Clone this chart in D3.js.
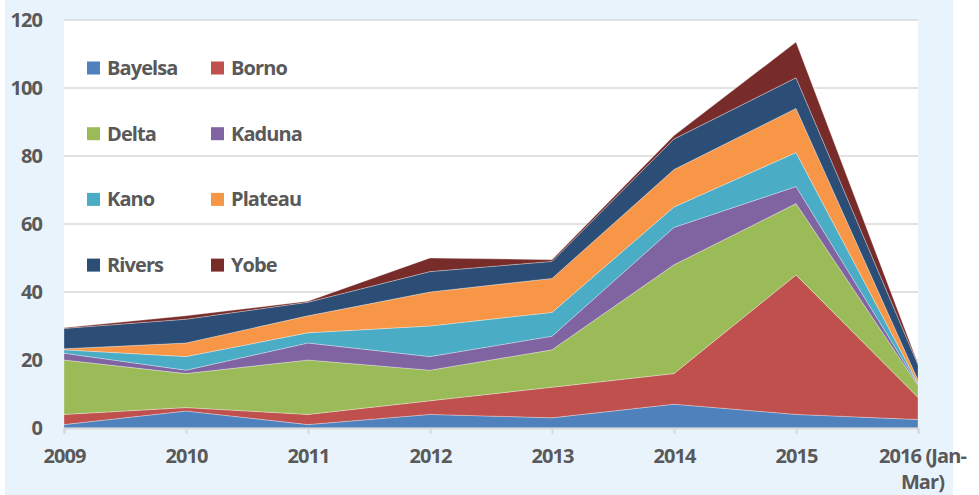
<!DOCTYPE html>
<html>
<head>
<meta charset="utf-8">
<script src="https://cdn.jsdelivr.net/npm/d3@7"></script>
<style>
  body { margin: 0; background: #fff; }
  svg text { font-family: "Open Sans", "Noto Sans", sans-serif; font-weight: 700; fill: #595959; letter-spacing: -0.9px; }
</style>
</head>
<body>
<div id="chart"></div>
<script>
// ---- data ----
const years = ["2009", "2010", "2011", "2012", "2013", "2014", "2015", "2016 (Jan-Mar)"];
const states = ["Bayelsa", "Borno", "Delta", "Kaduna", "Kano", "Plateau", "Rivers", "Yobe"];
const bayelsa = [1, 5, 1, 4, 3, 7, 4, 2.5];
const borno   = [3, 1, 3, 4, 9, 9, 41, 6.5];
const delta   = [16, 10, 16, 9, 11, 32, 21, 3.5];
const kaduna  = [2, 1, 5, 4, 4, 11, 5, 0.3];
const kano    = [1, 4, 3, 9, 7, 6, 10, 0.3];
const plateau = [0.3, 4, 5, 10, 10, 11, 13, 1];
const rivers  = [6, 7, 4, 6, 5, 9, 9, 4.5];
const yobe    = [0.2, 1, 0.3, 4, 0.5, 1, 10.5, 0.3];
const yTicks = [0, 20, 40, 60, 80, 100, 120];
const colors = ["#4f81bd", "#c0504d", "#9bbb59", "#8064a2", "#4bacc6", "#f79646", "#2c4d75", "#772c2a"];

const series = [bayelsa, borno, delta, kaduna, kano, plateau, rivers, yobe];
const rows = years.map((y, i) => {
  const r = { year: y };
  states.forEach((s, j) => { r[s] = series[j][i]; });
  return r;
});

// ---- setup ----
const width = 979, height = 495;
const svg = d3.select("#chart").append("svg")
  .attr("width", width)
  .attr("height", height);

// light blue panel
svg.append("rect")
  .attr("x", 5).attr("y", 0)
  .attr("width", 948).attr("height", height)
  .attr("fill", "#e9f3fc");

const plot = { left: 64, right: 918, top: 20, bottom: 428 };

// plot area
svg.append("rect")
  .attr("x", plot.left).attr("y", plot.top)
  .attr("width", plot.right - plot.left)
  .attr("height", plot.bottom - plot.top)
  .attr("fill", "#fff");

// ---- scales ----
const x = d3.scalePoint()
  .domain(years)
  .range([plot.left, plot.right]);

const y = d3.scaleLinear()
  .domain([0, 120])
  .range([plot.bottom, plot.top]);

// ---- gridlines ----
svg.append("g")
  .selectAll("line")
  .data(yTicks.filter(t => t > 0))
  .join("line")
  .attr("x1", plot.left).attr("x2", plot.right)
  .attr("y1", d => y(d)).attr("y2", d => y(d))
  .attr("stroke", "#d9d9d9")
  .attr("stroke-width", 1.5);

// ---- stacked areas ----
const stack = d3.stack().keys(states);
const layers = stack(rows);

const area = d3.area()
  .x(d => x(d.data.year))
  .y0(d => y(d[0]))
  .y1(d => y(d[1]));

svg.append("g")
  .selectAll("path")
  .data(layers)
  .join("path")
  .attr("d", area)
  .attr("fill", (d, i) => colors[i])
  .attr("stroke", "#ffffff")
  .attr("stroke-opacity", 0.5)
  .attr("stroke-width", 0.6);

// ---- y axis ----
const yAxis = svg.append("g")
  .attr("transform", `translate(${plot.left},0)`)
  .call(d3.axisLeft(y).tickValues(yTicks).tickSize(0).tickPadding(22));
yAxis.select(".domain").remove();
yAxis.selectAll("text")
  .style("font-size", "20px")
  .attr("fill", "#595959");

// ---- x axis ----
const xAxis = svg.append("g")
  .attr("transform", `translate(0,${plot.bottom})`)
  .call(d3.axisBottom(x).tickSize(6).tickPadding(15));
xAxis.select(".domain")
  .attr("stroke", "#d9d9d9")
  .attr("stroke-width", 2);
xAxis.selectAll(".tick line")
  .attr("stroke", "#d9d9d9")
  .attr("stroke-width", 2);
xAxis.selectAll("text")
  .style("font-size", "20px")
  .attr("fill", "#595959")
  .each(function (d) {
    const parts = d.split(/(?<=-)/);
    if (parts.length > 1) {
      const t = d3.select(this).text(null);
      parts.forEach((p, i) => {
        t.append("tspan")
          .attr("x", 4)
          .attr("dy", i === 0 ? "0.71em" : "1.3em")
          .text(p);
      });
      t.attr("dy", null);
    }
  });

// ---- legend ----
const legend = svg.append("g");
states.forEach((s, i) => {
  const col = i % 2, row = Math.floor(i / 2);
  const g = legend.append("g")
    .attr("transform", `translate(${87 + col * 124},${68 + row * 65.7})`);
  g.append("rect")
    .attr("x", 0).attr("y", -6.5)
    .attr("width", 13).attr("height", 13)
    .attr("fill", colors[i]);
  g.append("text")
    .attr("x", 20)
    .attr("y", 0)
    .attr("dy", "0.35em")
    .style("font-size", "20px")
    .text(s);
});
</script>
</body>
</html>
